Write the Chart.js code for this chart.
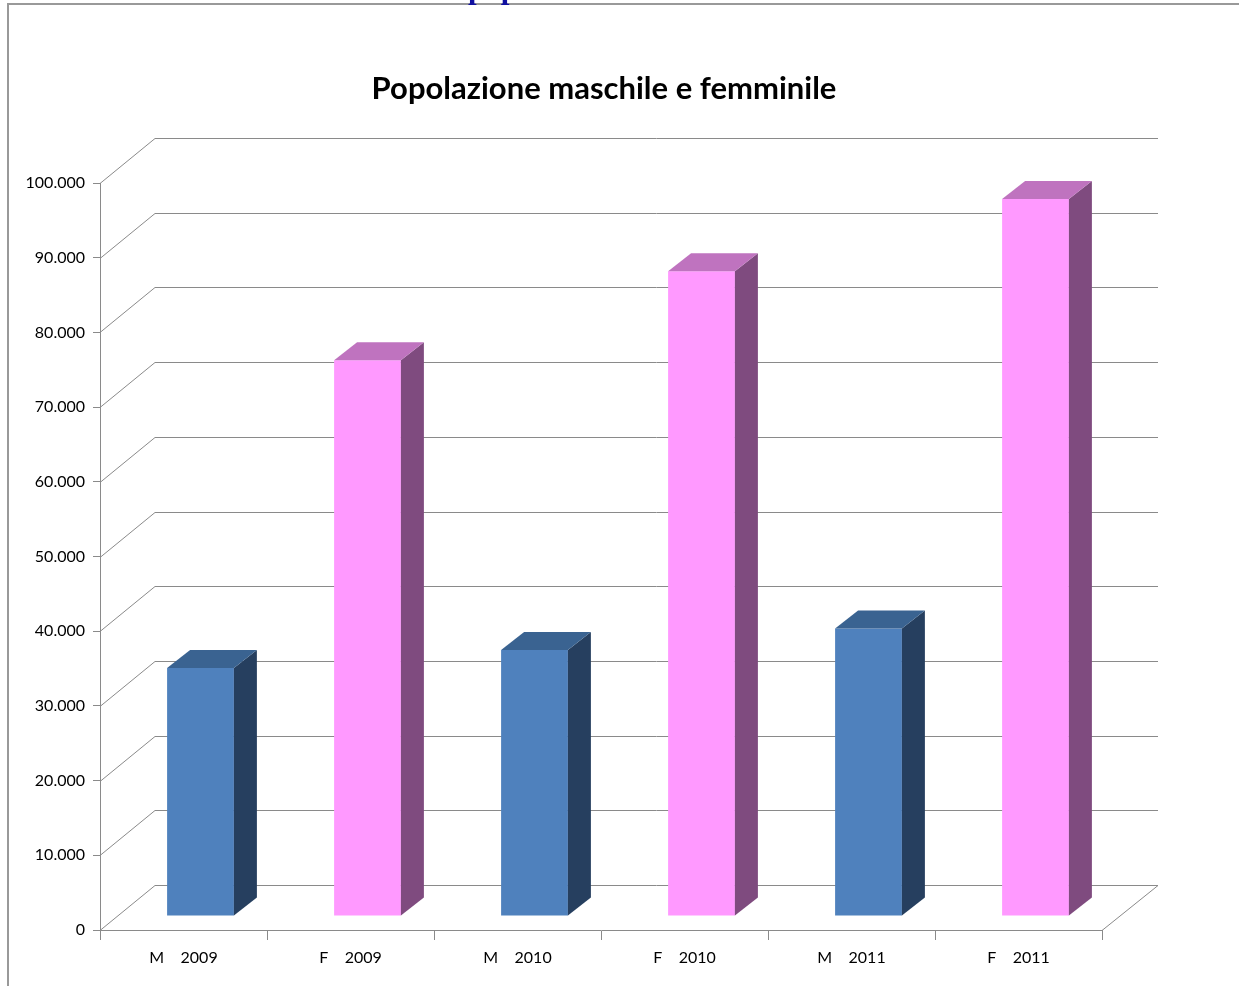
<!DOCTYPE html>
<html>
<head>
<meta charset="utf-8">
<script src="https://cdn.jsdelivr.net/npm/chart.js@4.4.1/dist/chart.umd.min.js"></script>
<style>
  html, body { margin: 0; padding: 0; background: #fff; overflow: hidden; }
</style>
</head>
<body>
<canvas id="popChart" width="1239" height="986"></canvas>
<script>
// Dati del grafico
const categories = ['M    2009', 'F    2009', 'M    2010', 'F    2010', 'M    2011', 'F    2011'];
const popolazione = [33200, 74400, 35600, 86300, 38500, 96000];
const yTicks = [0, 10000, 20000, 30000, 40000, 50000, 60000, 70000, 80000, 90000, 100000];

const titolo = 'Popolazione maschile e femminile';

// colori: fronte, lato, sopra
const colM = { front: '#4F81BD', side: '#263F5F', top: '#3A6391' };
const colF = { front: '#FF99FF', side: '#7F4B7F', top: '#BF73BF' };
const barColors = categories.map(c => c.trim().startsWith('M') ? colM : colF);

// profondita' della parete di fondo e delle barre
const wallDx = 55, wallDy = -45;
const barOffX = 17, barOffY = -14;
const barDx = 23, barDy = -18;
const gridColor = '#8a8a8a';

function formatIt(v) {
    return String(v).replace(/\B(?=(\d{3})+(?!\d))/g, '.');
}

const threeD = {
    id: 'threeD',
    beforeDraw(chart) {
        const ctx = chart.ctx;
        ctx.save();
        ctx.fillStyle = '#fff';
        ctx.fillRect(0, 0, chart.width, chart.height);
        // cornice della pagina
        ctx.strokeStyle = '#999';
        ctx.lineWidth = 2;
        ctx.beginPath();
        ctx.moveTo(8, 986);
        ctx.lineTo(8, 4);
        ctx.lineTo(1239, 4);
        ctx.stroke();
        // testo blu tagliato in alto
        ctx.fillStyle = '#1010a0';
        ctx.font = 'bold 31px "Liberation Serif"';
        ctx.textBaseline = 'alphabetic';
        ctx.fillText('pop', 468, -2);
        // titolo
        ctx.fillStyle = '#000';
        ctx.font = 'bold 31px Lato';
        ctx.textAlign = 'center';
        ctx.fillText(titolo, 604, 99);
        ctx.restore();
    },
    beforeDatasetsDraw(chart) {
        const ctx = chart.ctx;
        const y = chart.scales.y;
        const area = chart.chartArea;
        ctx.save();
        ctx.strokeStyle = gridColor;
        ctx.lineWidth = 1;
        ctx.beginPath();
        y.ticks.forEach(t => {
            const py = Math.round(y.getPixelForValue(t.value)) + 0.5;
            ctx.moveTo(area.left, py);
            ctx.lineTo(area.left + wallDx, py + wallDy);
            ctx.lineTo(area.right + wallDx + 1, py + wallDy);
        });
        // bordo destro del pavimento
        const by = Math.round(y.getPixelForValue(0)) + 0.5;
        ctx.moveTo(area.right, by);
        ctx.lineTo(area.right + wallDx + 1, by + wallDy);
        ctx.stroke();
        ctx.restore();
        ctx.save();
        ctx.translate(barOffX, barOffY);
    },
    afterDatasetsDraw(chart) {
        const ctx = chart.ctx;
        ctx.restore();
        const meta = chart.getDatasetMeta(0);
        ctx.save();
        meta.data.forEach((bar, i) => {
            const p = bar.getProps(['x', 'y', 'base', 'width'], true);
            const l = p.x - p.width / 2 + barOffX;
            const r = p.x + p.width / 2 + barOffX;
            const t = p.y + barOffY;
            const b = p.base + barOffY;
            const c = barColors[i];
            ctx.fillStyle = c.side;
            ctx.beginPath();
            ctx.moveTo(r, t);
            ctx.lineTo(r + barDx, t + barDy);
            ctx.lineTo(r + barDx, b + barDy);
            ctx.lineTo(r, b);
            ctx.closePath();
            ctx.fill();
            ctx.fillStyle = c.top;
            ctx.beginPath();
            ctx.moveTo(l, t);
            ctx.lineTo(l + barDx, t + barDy);
            ctx.lineTo(r + barDx, t + barDy);
            ctx.lineTo(r, t);
            ctx.closePath();
            ctx.fill();
        });
        ctx.restore();
    }
};

new Chart(document.getElementById('popChart').getContext('2d'), {
    type: 'bar',
    data: {
        labels: categories,
        datasets: [{
            label: 'Popolazione',
            data: popolazione,
            backgroundColor: barColors.map(c => c.front),
            borderWidth: 0,
            categoryPercentage: 1,
            barPercentage: 0.4,
            clip: false
        }]
    },
    options: {
        responsive: false,
        animation: false,
        layout: { padding: { left: 0, right: 137, top: 183, bottom: 0 } },
        plugins: {
            legend: { display: false },
            title: { display: false },
            tooltip: { enabled: false }
        },
        scales: {
            x: {
                offset: true,
                grid: { offset: true, drawOnChartArea: false, tickLength: 10, color: gridColor },
                border: { color: gridColor },
                ticks: { color: '#000', font: { family: 'Lato', size: 16 }, padding: 8, maxRotation: 0 },
                afterFit(scale) { scale.height = 56; }
            },
            y: {
                min: 0,
                max: 100000,
                afterBuildTicks(scale) { scale.ticks = yTicks.map(v => ({ value: v })); },
                grid: { drawOnChartArea: false, tickLength: 7, color: gridColor },
                border: { color: gridColor },
                ticks: { color: '#000', font: { family: 'Lato', size: 16 }, padding: 8, callback: v => formatIt(v) },
                afterFit(scale) { scale.width = 100; }
            }
        }
    },
    plugins: [threeD]
});
</script>
</body>
</html>
